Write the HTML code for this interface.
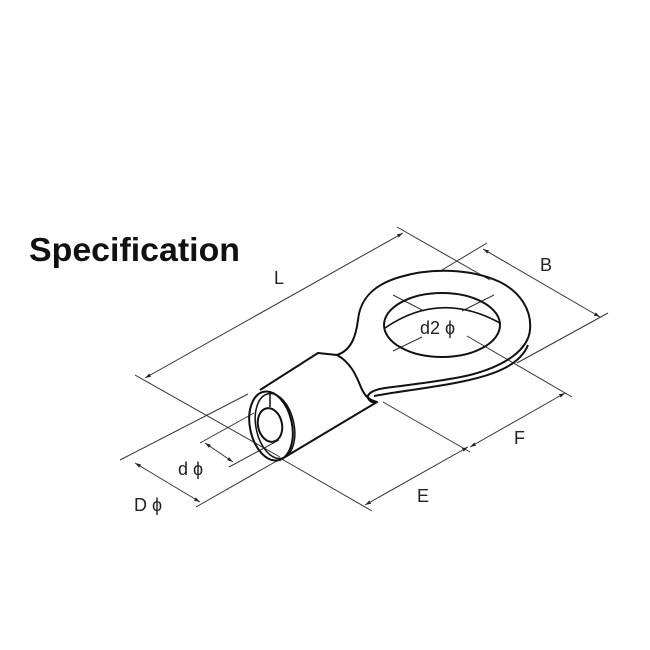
<!DOCTYPE html>
<html><head><style>
html,body{margin:0;padding:0;background:#fff;}
svg{display:block}
text{font-family:"Liberation Sans",sans-serif;fill:#222}
</style></head><body>
<svg width="650" height="650" viewBox="0 0 650 650" xmlns="http://www.w3.org/2000/svg">
<defs>
<marker id="a" viewBox="0 0 10 10" refX="10" refY="5" markerWidth="6" markerHeight="6" orient="auto-start-reverse"><path d="M0,2 L10,5 L0,8 z" fill="#222"/></marker>
</defs>
<text x="29" y="261" font-size="33" font-weight="bold" textLength="211" lengthAdjust="spacingAndGlyphs" style="fill:#111">Specification</text>
<g stroke="#333" stroke-width="1" fill="none">
<line x1="145" y1="378" x2="403" y2="233" marker-start="url(#a)" marker-end="url(#a)"/>
<line x1="135" y1="375" x2="280" y2="457"/>
<line x1="397" y1="227" x2="490" y2="280"/>
<line x1="442" y1="270" x2="487" y2="243"/>
<line x1="483" y1="249" x2="600" y2="317" marker-start="url(#a)" marker-end="url(#a)"/>
<line x1="517" y1="363" x2="608" y2="313"/>
<line x1="393" y1="295" x2="424" y2="311"/>
<line x1="462" y1="311" x2="494" y2="295"/>
<line x1="393" y1="351" x2="422" y2="337"/>
<line x1="467" y1="336" x2="572" y2="397"/>
<line x1="470" y1="447" x2="565" y2="393" marker-start="url(#a)" marker-end="url(#a)"/>
<line x1="280" y1="458" x2="372" y2="511"/>
<line x1="383" y1="402" x2="470" y2="452"/>
<line x1="365" y1="505" x2="468" y2="447" marker-start="url(#a)" marker-end="url(#a)"/>
<line x1="200" y1="443" x2="254" y2="413"/>
<line x1="229" y1="467" x2="279" y2="440"/>
<line x1="205" y1="443" x2="233" y2="462" marker-start="url(#a)" marker-end="url(#a)"/>
<line x1="120" y1="460" x2="248" y2="394"/>
<line x1="196" y1="507" x2="282" y2="458"/>
<line x1="135" y1="463" x2="200" y2="502" marker-start="url(#a)" marker-end="url(#a)"/>
</g>
<g stroke="#111" stroke-width="2" fill="none" stroke-linejoin="round">
<path d="M337,355 C352,350 356,335 358,320 C360,300 372,285 400,277 C430,268 470,268 500,282 C520,292 532,310 530,330 C528,350 505,366 470,375 C440,382 405,385 385,388 C372,390 367,394 368,398 C370,402 373,403 377,402"/>
<path d="M374,396 C395,392 430,388 460,382 C495,375 520,365 528,345"/>
<ellipse cx="442" cy="325" rx="58" ry="32"/>
<path d="M385,328 Q440,290 500,323" stroke-width="1.6"/>
<path d="M260,390 L318,353 L337,355 C350,362 356,375 360,385 C364,395 368,400 377,402 L280,460"/>
<ellipse cx="271" cy="426" rx="21" ry="35" transform="rotate(-12 271 426)"/>
<ellipse cx="275" cy="426" rx="19" ry="33" transform="rotate(-12 275 426)" stroke-width="1.5"/>
<ellipse cx="270" cy="425" rx="12" ry="17" transform="rotate(-12 270 425)"/>
<line x1="270" y1="392" x2="270" y2="407" stroke-width="1.5"/>
</g>
<g font-size="18">
<text x="274" y="284">L</text>
<text x="540" y="271">B</text>
<text x="420" y="334">d2 ϕ</text>
<text x="514" y="444">F</text>
<text x="417" y="502">E</text>
<text x="178" y="475">d ϕ</text>
<text x="134" y="511">D ϕ</text>
</g>
</svg>
</body></html>
